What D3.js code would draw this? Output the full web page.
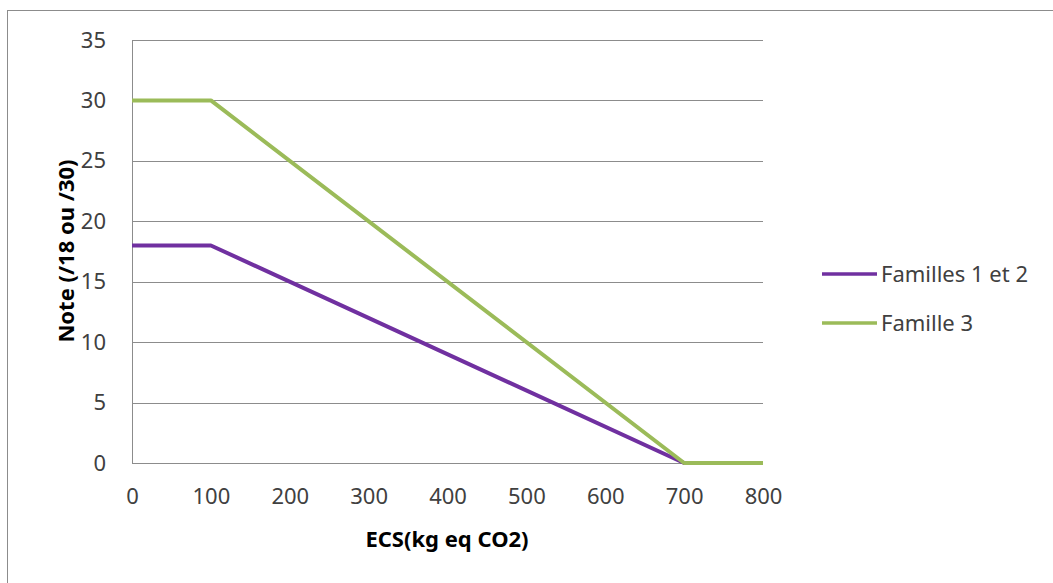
<!DOCTYPE html>
<html><head><meta charset="utf-8">
<script src="https://cdn.jsdelivr.net/npm/d3@7"></script>
<style>body{margin:0;background:#fff}svg{display:block}</style>
</head><body><svg id="c" width="1053" height="583"></svg>
<script>
const xValues = [0, 100, 700, 800];
const famille12 = [18, 18, 0, 0];
const famille3 = [30, 30, 0, 0];
const seriesNames = ["Familles 1 et 2", "Famille 3"];
const xTicks = [0, 100, 200, 300, 400, 500, 600, 700, 800];
const yTicks = [0, 5, 10, 15, 20, 25, 30, 35];
const xTitle = "ECS(kg eq CO2)";
const yTitle = "Note (/18 ou /30)";
const colors = ["#7030A0", "#9BBB59"];

const svg = d3.select("#c");
const font = "'Noto Sans', 'Liberation Sans', sans-serif";
const fs = 22;
// outer frame
svg.append("rect").attr("x",7.5).attr("y",10.5).attr("width",1060).attr("height",600)
  .attr("fill","none").attr("stroke","#8c8c8c").attr("stroke-width",1);

const x = d3.scaleLinear().domain([0,800]).range([132,763]);
const y = d3.scaleLinear().domain([0,35]).range([463,40]);

// gridlines
svg.append("g").selectAll("line").data(yTicks).join("line")
  .attr("x1",x(0)).attr("x2",x(800))
  .attr("y1",d=>Math.round(y(d))+0.5).attr("y2",d=>Math.round(y(d))+0.5)
  .attr("stroke","#8c8c8c").attr("stroke-width",1);
// y axis line
svg.append("line").attr("x1",x(0)+0.5).attr("x2",x(0)+0.5).attr("y1",y(35)).attr("y2",y(0))
  .attr("stroke","#8c8c8c");

// y tick labels
const yAxis = d3.axisLeft(y).tickValues(yTicks).tickSize(0).tickPadding(26);
const gy = svg.append("g").attr("transform",`translate(${x(0)},0)`).call(yAxis);
gy.select(".domain").remove();
gy.selectAll("text").attr("font-family",font).attr("font-size",fs).attr("fill","#404040");

const xAxis = d3.axisBottom(x).tickValues(xTicks).tickSize(0).tickPadding(25);
const gx = svg.append("g").attr("transform",`translate(0,${y(0)})`).call(xAxis);
gx.select(".domain").remove();
gx.selectAll("text").attr("font-family",font).attr("font-size",fs).attr("fill","#404040");

// titles
svg.append("text").attr("x",447).attr("y",547).attr("text-anchor","middle")
  .attr("font-family",font).attr("font-size",fs).attr("font-weight","bold").attr("fill","#000").text(xTitle);
svg.append("text").attr("transform","translate(74,251) rotate(-90)").attr("text-anchor","middle")
  .attr("font-family",font).attr("font-size",fs).attr("font-weight","bold").attr("fill","#000").text(yTitle);

// lines
const line = d3.line().x((d,i)=>x(xValues[i])).y(d=>y(d));
[famille12, famille3].forEach((s,k)=>{
  svg.append("path").attr("d",line(s)).attr("fill","none").attr("stroke",colors[k])
    .attr("stroke-width",4).attr("stroke-linejoin","round");
});

// legend
const leg = svg.append("g");
seriesNames.forEach((n,k)=>{
  const ly = 274 + k*49;
  leg.append("line").attr("x1",822).attr("x2",877).attr("y1",ly).attr("y2",ly)
    .attr("stroke",colors[k]).attr("stroke-width",3.5);
  leg.append("text").attr("x",881).attr("y",ly+8).attr("font-family",font).attr("font-size",fs)
    .attr("fill","#404040").text(n);
});
</script></body></html>
